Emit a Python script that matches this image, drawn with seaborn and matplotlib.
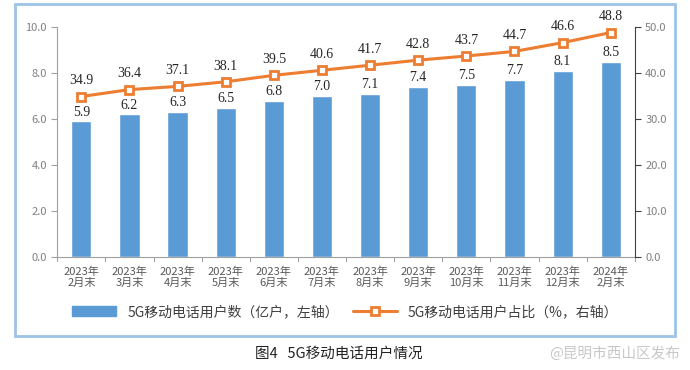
import numpy as np
import pandas as pd
import matplotlib
matplotlib.use('Agg')
import matplotlib.pyplot as plt
import seaborn as sns
from matplotlib.patches import Rectangle

months = ['2023年\n2月末', '2023年\n3月末', '2023年\n4月末', '2023年\n5月末', '2023年\n6月末', '2023年\n7月末',
          '2023年\n8月末', '2023年\n9月末', '2023年\n10月末', '2023年\n11月末', '2023年\n12月末', '2024年\n2月末']
users = [5.9, 6.2, 6.3, 6.5, 6.8, 7.0, 7.1, 7.4, 7.5, 7.7, 8.1, 8.5]
share = [34.9, 36.4, 37.1, 38.1, 39.5, 40.6, 41.7, 42.8, 43.7, 44.7, 46.6, 48.8]

sns.set_style('white')
plt.rcParams['font.family'] = ['Noto Sans CJK SC', 'DejaVu Sans']

df = pd.DataFrame({'month': months, 'users': users, 'share': share})
df['pos'] = np.arange(len(df))

bar_c = '#5B9BD5'
line_c = '#ED7D31'

fig = plt.figure(figsize=(6.9, 3.7), dpi=100)
ax = fig.add_axes([0.083, 0.305, 0.837, 0.622])

sns.barplot(data=df, x='month', y='users', color=bar_c, width=0.42, saturation=1, ax=ax)
ax.set_ylim(0, 10)
ax.set_yticks(np.arange(0, 10.1, 2))
ax.set_yticklabels(['%.1f' % v for v in np.arange(0, 10.1, 2)])
ax.set_xlim(-0.5, len(df) - 0.5)
ax.set_xlabel('')
ax.set_ylabel('')
ax.set_xticks(np.arange(len(df)))
ax.set_xticklabels(months, fontsize=8, color='#595959', linespacing=1.1)
ax.tick_params(axis='x', length=0, pad=7)
ax.tick_params(axis='y', labelsize=8, labelcolor='#808080', length=4, color='#a0a0a0', direction='out', left=True)
for s in ['top', 'right']:
    ax.spines[s].set_visible(False)
ax.spines['left'].set_color('#a0a0a0')
ax.spines['bottom'].set_color('#a0a0a0')
# category separator ticks on x axis
for b in np.arange(-0.5, len(df), 1):
    ax.plot([b, b], [0, -0.18], color='#a0a0a0', lw=0.8, clip_on=False)

for i, v in enumerate(users):
    ax.text(i, v + 0.12, '%.1f' % v, ha='center', va='bottom', fontsize=10, family='Liberation Serif')

ax2 = ax.twinx()
sns.lineplot(data=df, x='pos', y='share', ax=ax2, color=line_c, lw=2.2, marker='s', markersize=6,
             markerfacecolor='white', markeredgecolor=line_c, markeredgewidth=2)
ax2.set_ylim(0, 50)
ax2.set_yticks(np.arange(0, 50.1, 10))
ax2.set_yticklabels(['%.1f' % v for v in np.arange(0, 50.1, 10)])
ax2.set_xlim(-0.5, len(df) - 0.5)
ax2.set_ylabel('')
ax2.set_xlabel('')
ax2.tick_params(axis='y', labelsize=8, labelcolor='#808080', length=4, color='#404040', direction='out', right=True)
for s in ['top', 'left', 'bottom']:
    ax2.spines[s].set_visible(False)
ax2.spines['right'].set_color('#404040')

for i, v in enumerate(share):
    ax2.text(i, v + 2.0, '%.1f' % v, ha='center', va='bottom', fontsize=10, family='Liberation Serif')

handles = [Rectangle((0, 0), 1, 1, color=bar_c),
           plt.Line2D([], [], color=line_c, lw=2.2, marker='s', markersize=6,
                      markerfacecolor='white', markeredgecolor=line_c, markeredgewidth=2)]
fig.legend(handles, ['5G移动电话用户数（亿户，左轴）', '5G移动电话用户占比（%，右轴）'],
           loc='center', bbox_to_anchor=(0.5, 0.157), ncol=2, frameon=False, fontsize=10,
           handlelength=3.2, columnspacing=1.0, labelcolor='#404040')

fig.patches.append(Rectangle((0.022, 0.092), 0.956, 0.897, transform=fig.transFigure,
                             fill=False, edgecolor='#9DC3E6', lw=2))

fig.text(0.37, 0.043, '图4   5G移动电话用户情况', fontsize=10.5, va='center', ha='left', color='#222222')
fig.text(0.985, 0.043, '@昆明市西山区发布', fontsize=10.5, va='center', ha='right', color='#c8c8c8')

fig.savefig('out.png', dpi=100)
